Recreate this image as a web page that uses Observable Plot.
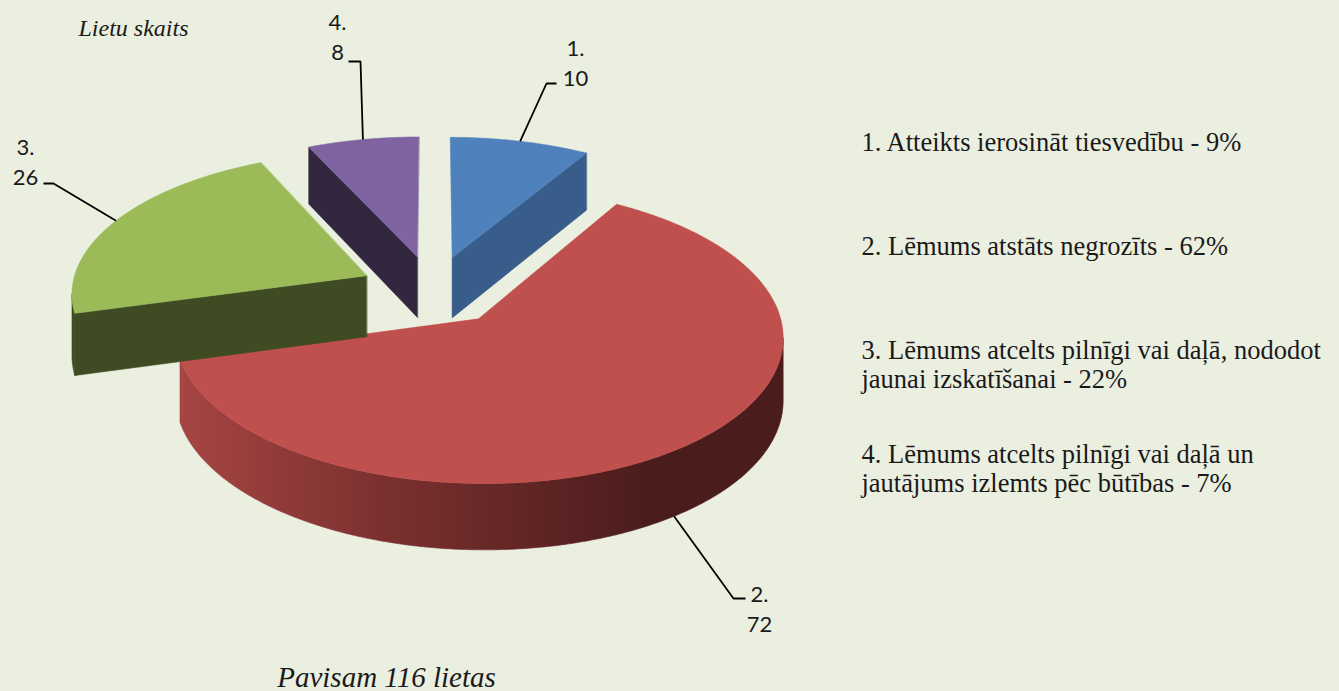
<!DOCTYPE html>
<html>
<head>
<meta charset="utf-8">
<script src="https://cdn.jsdelivr.net/npm/d3@7"></script>
<script src="https://cdn.jsdelivr.net/npm/@observablehq/plot@0.6"></script>
<style>
  html, body { margin: 0; padding: 0; background: #EBEFE0; }
  #chart svg { display: block; }
</style>
</head>
<body>
<div id="chart"></div>
<script>
// ---- data ----
const sliceLabels = ["1.", "2.", "3.", "4."];
const categories = [
  "Atteikts ierosināt tiesvedību",
  "Lēmums atstāts negrozīts",
  "Lēmums atcelts pilnīgi vai daļā, nododot\njaunai izskatīšanai",
  "Lēmums atcelts pilnīgi vai daļā un\njautājums izlemts pēc būtības"
];
const values = [10, 72, 26, 8];
const titleText = "Lietu skaits";
const captionPrefix = "Pavisam";
const captionSuffix = "lietas";

// ---- styles ----
const topColors = ["#4F81BD", "#C0504D", "#9BBB59", "#8064A2"];
const sideColors = ["#385D8A", "url(#redSideGrad)", "#3F4B22", "#33273F"];
const redSideStops = [[0, "#A84644"], [0.45, "#7A302F"], [1, "#4B1C1C"]];
const bg = "#EBEFE0";

// ---- layout ----
const W = 1339, H = 691;
const G = {cx: 432.4, cy: 289.7, s: 295.4, a: 140, q: 0.11, d0: 61.5, d1: 4, explode: 0.25};
const drawOrder = [3, 0, 1, 2];
const gradX = [170, 650];
const labelLayout = [
  {frac: 0.5, elbow: [546, 83], tail: [556, 83], text: [575, 61]},
  {frac: 0.51, elbow: [733, 598], tail: [745, 598], text: [759, 607]},
  {frac: 0.5, elbow: [53, 183], tail: [43, 183], text: [25, 160]},
  {frac: 0.5, elbow: [360, 61], tail: [348, 61], text: [337, 35]}
];
const legendX = 861, legendBase0 = 150, legendStep = 104, legendFs = 26.5, legendLh = 30 / 26.5;

// ---- geometry ----
const total = d3.sum(values);
let acc = 0;
const slices = values.map((v, i) => {
  const a0 = acc / total * 2 * Math.PI; acc += v;
  const a1 = acc / total * 2 * Math.PI;
  const mid = (a0 + a1) / 2;
  return {i, v, a0, a1, mid, ou: G.explode * Math.sin(mid), ov: G.explode * Math.cos(mid)};
});
function P(s, th, r, bottom) {
  const u = s.ou + r * Math.sin(th), v = s.ov + r * Math.cos(th);
  const den = 1 + G.q * v;
  return [G.cx + G.s * u / den, G.cy - G.a * v / den + (bottom ? G.d0 - G.d1 * v : 0)];
}
function area(p) {
  let s = 0;
  for (let k = 0; k < p.length; k++) { const a = p[k], b = p[(k + 1) % p.length]; s += a[0] * b[1] - b[0] * a[1]; }
  return s / 2;
}
const polys = [];
for (const idx of drawOrder) {
  const s = slices[idx];
  const n = Math.max(2, Math.ceil((s.a1 - s.a0) / (Math.PI / 360)));
  const th = d3.range(n + 1).map(k => s.a0 + (s.a1 - s.a0) * k / n);
  const col = sideColors[idx];
  // radial faces
  const startFace = [P(s, 0, 0, false), P(s, s.a0, 1, false), P(s, s.a0, 1, true), P(s, 0, 0, true)];
  const endFace = [P(s, s.a1, 1, false), P(s, 0, 0, false), P(s, 0, 0, true), P(s, s.a1, 1, true)];
  for (const f of [startFace, endFace]) if (area(f) < -300) polys.push({pts: f, color: col});
  // rim: contiguous visible runs merged into one polygon each
  const vis = d3.range(n).map(k => area([P(s, th[k], 1, false), P(s, th[k + 1], 1, false),
    P(s, th[k + 1], 1, true), P(s, th[k], 1, true)]) < 0);
  let k = 0;
  while (k < n) {
    if (!vis[k]) { k++; continue; }
    let e = k;
    while (e + 1 < n && vis[e + 1]) e++;
    const ts = th.slice(k, e + 2);
    if (ts.length > 2 || Math.abs(ts[1] - ts[0]) > 0.05) {
      const pts = [...ts.map(t => P(s, t, 1, false)), ...ts.slice().reverse().map(t => P(s, t, 1, true))];
      if (Math.abs(area(pts)) > 30) polys.push({pts, color: col});
    }
    k = e + 1;
  }
  // top
  const top = [P(s, 0, 0, false), ...th.map(t => P(s, t, 1, false))];
  polys.push({pts: top, color: topColors[idx]});
}

const leaders = slices.map(s => {
  const L = labelLayout[s.i];
  const t = s.a0 + (s.a1 - s.a0) * L.frac;
  return [P(s, t, 1, Math.cos(t) < 0), L.elbow, L.tail];
});

const legendData = slices.map(s => ({
  text: `${sliceLabels[s.i]} ${categories[s.i]} - ${Math.round(s.v / total * 100)}%`,
  y: legendBase0 + s.i * legendStep - 0.71 * legendLh * legendFs
}));

function gradientDefs() {
  const ns = "http://www.w3.org/2000/svg";
  const defs = document.createElementNS(ns, "defs");
  const lg = document.createElementNS(ns, "linearGradient");
  lg.setAttribute("id", "redSideGrad");
  lg.setAttribute("gradientUnits", "userSpaceOnUse");
  lg.setAttribute("x1", gradX[0]); lg.setAttribute("x2", gradX[1]);
  lg.setAttribute("y1", 0); lg.setAttribute("y2", 0);
  for (const [o, c] of redSideStops) {
    const st = document.createElementNS(ns, "stop");
    st.setAttribute("offset", o); st.setAttribute("stop-color", c);
    lg.appendChild(st);
  }
  defs.appendChild(lg);
  return defs;
}

const chart = Plot.plot({
  width: W, height: H, margin: 0,
  x: {domain: [0, W], range: [0, W], axis: null},
  y: {domain: [0, H], range: [0, H], axis: null},
  style: {background: bg, overflow: "visible"},
  marks: [
    gradientDefs,
    ...polys.map(p => Plot.line(p.pts, {x: d => d[0], y: d => d[1], curve: "linear-closed",
      fill: p.color, stroke: p.color, strokeWidth: 0.6, strokeLinejoin: "round"})),
    ...leaders.map(l => Plot.line(l, {x: d => d[0], y: d => d[1], stroke: "#000", strokeWidth: 1.8,
      strokeLinejoin: "miter", strokeLinecap: "butt"})),
    Plot.text(slices, {x: s => labelLayout[s.i].text[0], y: s => labelLayout[s.i].text[1],
      text: s => `${sliceLabels[s.i]}\n${s.v}`, fontFamily: "Lato", fontSize: 22, lineHeight: 1.36,
      textAnchor: "middle", lineAnchor: "middle", fill: "#1a1a1a"}),
    Plot.text(legendData, {x: legendX, y: "y", text: "text", fontFamily: "Liberation Serif",
      fontSize: legendFs, lineHeight: legendLh, textAnchor: "start", lineAnchor: "top", fill: "#1a1a1a"}),
    Plot.text([titleText], {x: 78, y: 35, text: d => d, fontFamily: "Liberation Serif", fontStyle: "italic",
      fontSize: 24, textAnchor: "start", lineAnchor: "bottom", fill: "#1a1a1a"}),
    Plot.text([`${captionPrefix} ${total} ${captionSuffix}`], {x: 386, y: 686, text: d => d,
      fontFamily: "Liberation Serif", fontStyle: "italic", fontSize: 29, textAnchor: "middle",
      lineAnchor: "bottom", fill: "#1a1a1a"})
  ]
});
document.getElementById("chart").appendChild(chart);
</script>
</body>
</html>
